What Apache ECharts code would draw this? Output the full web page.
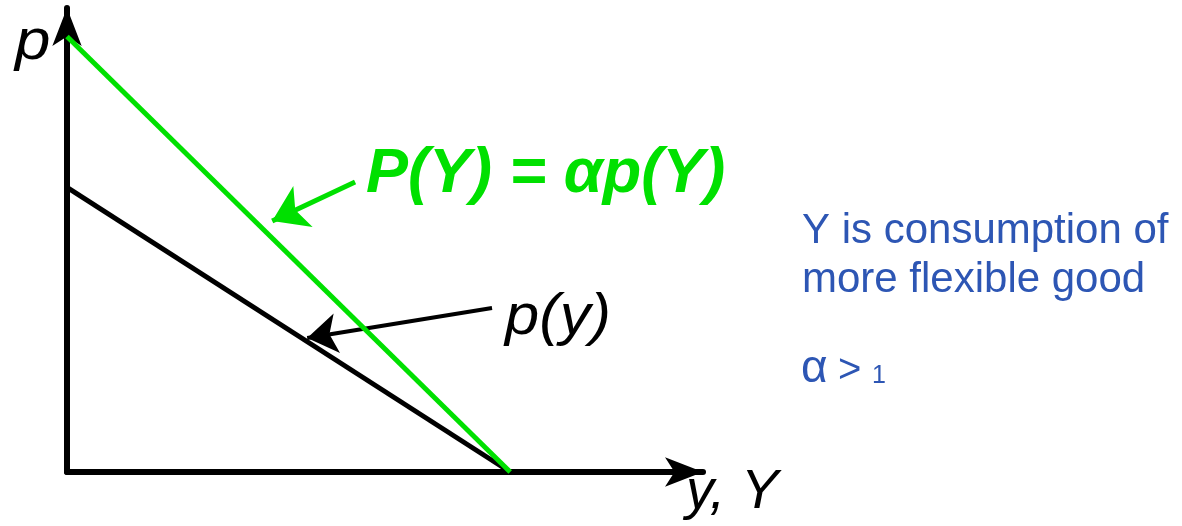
<!DOCTYPE html>
<html>
<head>
<meta charset="utf-8">
<script src="https://cdn.jsdelivr.net/npm/echarts@6/dist/echarts.min.js"></script>
<style>
  html, body { margin: 0; padding: 0; background: #fff; }
  #main { width: 1182px; height: 526px; }
</style>
</head>
<body>
<div id="main"></div>
<script>
// demand curves: p(y) and P(Y) = alpha p(Y), each from intercept on p to intercept on y
var xRange = [0, 14.35];
var yRange = [0, 16.3];
var smallDemand = [[0, 10], [10, 0]];      // p(y)
var bigDemand = [[0, 15.3], [10, 0]];      // P(Y)
// pointer arrows: [from, to]
var greenPointer = [[6.50, 10.19], [4.63, 8.82]];
var blackPointer = [[9.59, 5.76], [5.42, 4.71]];

var green = '#00e000';
var blue = '#2d56b4';
var italic = 'italic 58px "Liberation Sans", Arial';
var plain = '"Liberation Sans", Arial';

var axisStyle = {
    show: true,
    symbol: ['none', 'arrow'],
    symbolSize: [22, 38],
    lineStyle: { color: '#000', width: 6 }
};

var option = {
    animation: false,
    grid: { left: 67, right: 479, top: 8, bottom: 54 },
    xAxis: {
        type: 'value',
        min: xRange[0],
        max: xRange[1],
        axisLine: axisStyle,
        axisTick: { show: false },
        axisLabel: { show: false },
        splitLine: { show: false }
    },
    yAxis: {
        type: 'value',
        min: yRange[0],
        max: yRange[1],
        axisLine: axisStyle,
        axisTick: { show: false },
        axisLabel: { show: false },
        splitLine: { show: false }
    },
    series: [
        {
            name: 'p(y)',
            type: 'line',
            data: smallDemand,
            showSymbol: false,
            lineStyle: { color: '#000', width: 5 }
        },
        {
            name: 'P(Y)',
            type: 'line',
            data: bigDemand,
            showSymbol: false,
            lineStyle: { color: green, width: 5 }
        },
        {
            type: 'lines',
            coordinateSystem: 'cartesian2d',
            silent: true,
            symbol: ['none', 'arrow'],
            symbolSize: [22, 34],
            lineStyle: { color: green, width: 5, opacity: 1 },
            data: [{ coords: greenPointer }]
        },
        {
            type: 'lines',
            coordinateSystem: 'cartesian2d',
            silent: true,
            symbol: ['none', 'arrow'],
            symbolSize: [20, 30],
            lineStyle: { color: '#000', width: 4, opacity: 1 },
            data: [{ coords: blackPointer }]
        }
    ],
    graphic: [
        {
            type: 'text', x: 15, y: 43, scaleX: 1.1,
            style: { text: 'p', font: italic, fill: '#000', verticalAlign: 'middle' }
        },
        {
            type: 'text', x: 686, y: 492,
            style: { text: 'y, Y', font: 'italic 56px "Liberation Sans", Arial', fill: '#000', verticalAlign: 'middle' }
        },
        {
            type: 'text', x: 505, y: 318, scaleX: 1.06,
            style: { text: 'p(y)', font: italic, fill: '#000', verticalAlign: 'middle' }
        },
        {
            type: 'text', x: 366, y: 175,
            style: { text: 'P(Y) = αp(Y)', font: 'italic bold 63px "Liberation Sans", Arial', fill: green, verticalAlign: 'middle' }
        },
        {
            type: 'text', x: 802, y: 231,
            style: { text: 'Y is consumption of', font: '42px ' + plain, fill: blue, verticalAlign: 'middle' }
        },
        {
            type: 'text', x: 802, y: 280,
            style: { text: 'more flexible good', font: '42px ' + plain, fill: blue, verticalAlign: 'middle' }
        },
        {
            type: 'text', x: 801, y: 369,
            style: { text: 'α', font: '46px ' + plain, fill: blue, verticalAlign: 'middle' }
        },
        {
            type: 'text', x: 838, y: 371,
            style: { text: '>', font: '40px ' + plain, fill: blue, verticalAlign: 'middle' }
        },
        {
            type: 'text', x: 872, y: 376,
            style: { text: '1', font: '25px ' + plain, fill: blue, verticalAlign: 'middle' }
        }
    ]
};

var myChart = echarts.init(document.getElementById('main'));
myChart.setOption(option);
</script>
</body>
</html>
